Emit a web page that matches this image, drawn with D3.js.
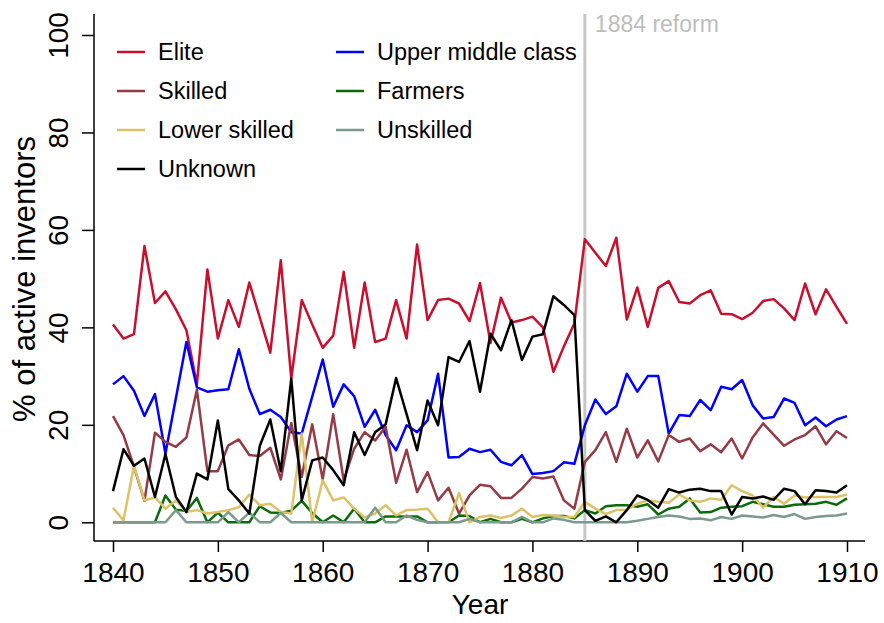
<!DOCTYPE html>
<html>
<head>
<meta charset="utf-8">
<script src="https://cdn.jsdelivr.net/npm/d3@7"></script>
<style>
  body { margin: 0; background: #fff; }
  svg { display: block; font-family: "Liberation Sans", Arial, Helvetica, sans-serif; }
</style>
</head>
<body>
<div id="container"></div>
<script>
// years on the x axis
let years = d3.range(1840, 1911);

// share of active inventors by class (%), one value per year
let elite = [40.6, 37.7, 38.6, 56.7, 45.0, 47.4, 43.7, 39.4, 28.3, 51.9,
  37.7, 45.6, 40.1, 49.2, 42.0, 34.8, 53.8, 29.5, 45.6, 40.6,
  35.8, 38.3, 51.4, 35.8, 49.2, 37.0, 37.7, 45.6, 37.7, 57.0,
  41.5, 45.6, 45.9, 44.9, 41.3, 49.1, 36.8, 46.1, 41.0, 41.5,
  42.2, 40.0, 30.9, 36.1, 40.8, 58.1, 55.3, 52.6, 58.4, 41.6,
  48.2, 40.1, 48.1, 49.5, 45.2, 44.9, 46.6, 47.6, 42.8, 42.7,
  41.7, 43.0, 45.4, 45.8, 43.9, 41.5, 49.0, 42.7, 47.8, 44.2, 40.7];

let upperMiddle = [28.3, 30.0, 27.0, 21.8, 26.3, 14.1, 25.5, 37.0, 27.7, 26.8,
  27.1, 27.3, 35.5, 27.4, 22.2, 23.1, 21.6, 18.5, 18.2, 25.8,
  33.4, 23.7, 28.3, 25.9, 19.6, 23.1, 17.9, 14.8, 19.9, 18.5,
  20.9, 30.5, 13.3, 13.4, 15.1, 14.4, 14.9, 12.4, 11.7, 13.8,
  9.9, 10.1, 10.5, 12.3, 12.0, 19.9, 25.2, 22.2, 23.8, 30.5,
  26.8, 30.0, 30.0, 18.2, 22.0, 21.8, 25.1, 23.0, 27.8, 27.3,
  29.2, 24.0, 21.3, 21.6, 25.4, 24.5, 19.9, 21.5, 19.7, 21.1, 21.8];

let skilled = [21.8, 17.9, 11.4, 4.4, 18.4, 16.5, 15.5, 17.4, 27.2, 10.5,
  10.5, 15.8, 17.0, 13.8, 13.6, 15.3, 8.8, 20.4, 9.3, 20.1,
  8.8, 22.2, 8.6, 15.1, 18.5, 16.8, 19.6, 8.1, 14.9, 6.2,
  10.3, 4.5, 7.1, 1.8, 5.5, 7.7, 7.4, 5.0, 5.0, 6.9,
  9.3, 9.0, 9.4, 4.5, 2.8, 12.4, 14.8, 18.5, 12.4, 19.2,
  13.3, 16.8, 12.5, 17.9, 16.5, 17.2, 14.6, 16.0, 14.4, 17.2,
  13.1, 17.4, 20.3, 18.0, 15.7, 17.0, 17.9, 19.7, 16.0, 18.7, 17.3];

let farmers = [0, 0, 0, 0, 0, 5.5, 2.6, 2.3, 5.0, 0,
  2.0, 0, 0, 0, 3.3, 2.0, 1.9, 2.4, 4.4, 1.9,
  0, 1.4, 0, 2.8, 0, 0, 1.2, 1.2, 1.2, 1.2,
  0, 0, 0, 1.4, 1.3, 0, 0.7, 0, 0, 0.7,
  0, 0.8, 1.3, 1.3, 0.8, 2.5, 1.8, 3.3, 3.5, 3.5,
  3.2, 3.7, 1.6, 2.8, 3.2, 4.9, 2.0, 2.1, 3.0, 3.2,
  3.3, 4.2, 3.7, 3.2, 3.2, 3.6, 3.7, 3.8, 4.2, 3.6, 4.9];

let lowerSkilled = [3.0, 0.4, 11.6, 4.5, 5.1, 2.8, 4.5, 2.1, 2.5, 1.8,
  2.1, 2.5, 3.1, 5.7, 3.5, 3.8, 2.1, 1.8, 18.2, 0,
  8.6, 4.5, 5.1, 2.8, 1.0, 1.8, 3.5, 1.4, 2.5, 2.6,
  2.8, 0, 0, 6.0, 0, 1.1, 1.4, 0.9, 1.4, 2.8,
  1.1, 1.5, 1.4, 1.1, 1.1, 4.2, 2.8, 1.7, 2.5, 2.6,
  3.8, 4.5, 4.2, 4.0, 5.7, 4.5, 4.2, 4.9, 4.6, 7.6,
  6.4, 5.5, 3.0, 5.2, 3.8, 5.5, 5.1, 5.2, 5.2, 5.2, 5.7];

let unskilled = [0, 0, 0, 0, 0, 0, 2.5, 0, 0, 0,
  0, 2.1, 0, 2.0, 0, 0, 1.9, 0, 0, 0,
  0, 0, 0, 0, 0, 3.0, 0, 0, 1.4, 0.5,
  0, 0, 0, 0, 0.7, 0, 0, 0, 0, 1.1,
  0, 0, 0.8, 0.5, 0, 0, 0, 0, 0, 0,
  0.3, 0.7, 1.1, 1.4, 1.2, 0.7, 0.8, 0.4, 1.1, 0.7,
  1.4, 1.2, 1.0, 1.5, 1.1, 1.7, 0.7, 1.1, 1.3, 1.4, 1.8];

let unknown = [6.4, 15.0, 11.6, 13.1, 5.2, 14.0, 5.2, 2.1, 10.0, 8.8,
  20.9, 6.8, 4.5, 1.8, 15.7, 21.1, 10.5, 29.5, 4.5, 12.7,
  13.3, 10.7, 7.6, 18.5, 13.8, 18.5, 20.1, 29.6, 22.2, 14.8,
  25.0, 19.9, 33.9, 32.9, 37.2, 26.8, 38.7, 35.3, 41.5, 33.3,
  38.1, 38.6, 46.4, 44.6, 42.5, 2.5, 0.3, 1.2, 0, 2.5,
  5.5, 4.6, 3.0, 6.8, 6.1, 6.7, 6.9, 6.4, 6.4, 1.6,
  5.2, 4.9, 5.3, 4.6, 6.9, 6.4, 3.7, 6.6, 6.4, 6.1, 7.6];

let seriesNames = ["Elite", "Upper middle class", "Skilled", "Farmers", "Lower skilled", "Unskilled", "Unknown"];
let seriesValues = [elite, upperMiddle, skilled, farmers, lowerSkilled, unskilled, unknown];
let seriesColors = ["#c8102e", "#0000ff", "#943b45", "#0a6b0a", "#dcc266", "#7b9a8b", "#000000"];

let xTicks = [1840, 1850, 1860, 1870, 1880, 1890, 1900, 1910];
let yTicks = [0, 20, 40, 60, 80, 100];
let reformYear = 1885;

let width = 884;
let height = 623;

let svg = d3.select("#container")
  .append("svg")
  .attr("width", width)
  .attr("height", height);

let x = d3.scaleLinear().domain([1840, 1910]).range([113, 847]);
let y = d3.scaleLinear().domain([0, 100]).range([522.3, 35]);

// axes
let xAxis = svg.append("g")
  .attr("transform", "translate(0,541)")
  .call(d3.axisBottom(x).tickValues(xTicks).tickFormat(d3.format("d")).tickSize(11).tickPadding(10));
xAxis.select(".domain").remove();
xAxis.selectAll("line").attr("stroke", "#000").attr("stroke-width", 1.5);
xAxis.selectAll("text").attr("font-size", 28).attr("fill", "#000");
xAxis.append("line")
  .attr("x1", 94).attr("x2", 865)
  .attr("stroke", "#000").attr("stroke-width", 1.5);

let yAxis = svg.append("g")
  .attr("transform", "translate(94,0)")
  .call(d3.axisLeft(y).tickValues(yTicks).tickSize(12));
yAxis.select(".domain").remove();
yAxis.selectAll("line").attr("stroke", "#000").attr("stroke-width", 1.5);
yAxis.selectAll("text")
  .attr("x", null)
  .attr("dy", null)
  .attr("text-anchor", "middle")
  .attr("transform", "translate(-26,0) rotate(-90)")
  .attr("font-size", 28)
  .attr("fill", "#000");
yAxis.append("line")
  .attr("y1", 14).attr("y2", 541)
  .attr("stroke", "#000").attr("stroke-width", 1.5);

// axis titles
svg.append("text")
  .attr("x", 480).attr("y", 614)
  .attr("text-anchor", "middle")
  .attr("font-size", 28)
  .text("Year");

svg.append("text")
  .attr("transform", "translate(35,279) rotate(-90)")
  .attr("text-anchor", "middle")
  .attr("font-size", 31)
  .text("% of active inventors");

// 1884 reform marker
svg.append("line")
  .attr("x1", x(reformYear)).attr("x2", x(reformYear))
  .attr("y1", 14).attr("y2", 541)
  .attr("stroke", "#c6c6c6").attr("stroke-width", 3);

svg.append("text")
  .attr("x", x(reformYear) + 10).attr("y", 32)
  .attr("font-size", 23)
  .attr("fill", "#bdbdbd")
  .text("1884 reform");

// lines
let line = d3.line()
  .x((d, i) => x(years[i]))
  .y(d => y(d));

svg.selectAll(".series")
  .data(seriesValues)
  .enter()
  .append("path")
  .attr("class", "series")
  .attr("d", d => line(d))
  .attr("fill", "none")
  .attr("stroke", (d, i) => seriesColors[i])
  .attr("stroke-width", 2.5)
  .attr("stroke-linejoin", "round");

// legend, two columns filled row by row
let legend = svg.selectAll(".legend")
  .data(seriesNames)
  .enter()
  .append("g")
  .attr("class", "legend")
  .attr("transform", (d, i) => "translate(" + (i % 2 === 0 ? 117 : 336) + "," + (52 + Math.floor(i / 2) * 39) + ")");

legend.append("line")
  .attr("x1", 0).attr("x2", 28)
  .attr("stroke", (d, i) => seriesColors[i])
  .attr("stroke-width", 2.5);

legend.append("text")
  .attr("x", 41).attr("y", 8)
  .attr("font-size", 23.5)
  .text(d => d);
</script>
</body>
</html>
